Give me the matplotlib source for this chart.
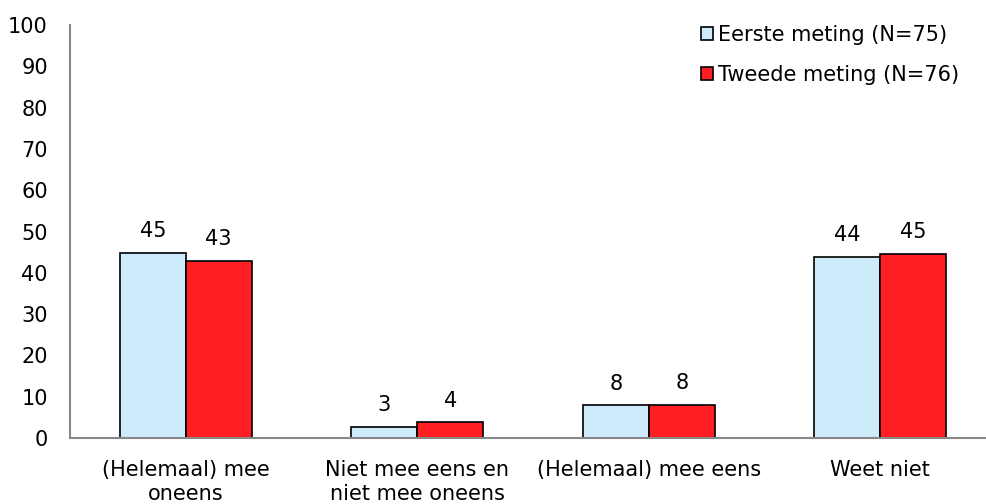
import matplotlib
matplotlib.use("Agg")
import matplotlib.pyplot as plt
import numpy as np

categories = ["(Helemaal) mee\noneens", "Niet mee eens en\nniet mee oneens", "(Helemaal) mee eens", "Weet niet"]
series_names = ["Eerste meting (N=75)", "Tweede meting (N=76)"]
eerste = [44.8, 2.6, 7.9, 43.8]
tweede = [42.8, 3.8, 8.0, 44.6]
eerste_labels = ["45", "3", "8", "44"]
tweede_labels = ["43", "4", "8", "45"]
yticks = [0, 10, 20, 30, 40, 50, 60, 70, 80, 90, 100]

plt.rcParams['font.family'] = ['DejaVu Sans']
FS = 15
W, H = 986, 504
fig = plt.figure(figsize=(W/100, H/100), dpi=100)
ax = fig.add_axes([70/W, (H-438)/H, (996-70)/W, (438-25)/H])
ax.set_xlim(-0.5, 3.5)
ax.set_ylim(0, 100)

x = np.arange(len(categories))
bw = 0.285
blue = "#CDEBFB"
red = "#FF1F23"
b1 = ax.bar(x - bw/2, eerste, bw, color=blue, edgecolor="black", linewidth=1.2, label=series_names[0])
b2 = ax.bar(x + bw/2, tweede, bw, color=red, edgecolor="black", linewidth=1.2, label=series_names[1])

for rect, lab in zip(b1, eerste_labels):
    ax.annotate(lab, (rect.get_x()+rect.get_width()/2, rect.get_height()), xytext=(0, 8.5),
                textcoords="offset points", ha="center", va="bottom", fontsize=FS)
for rect, lab in zip(b2, tweede_labels):
    ax.annotate(lab, (rect.get_x()+rect.get_width()/2, rect.get_height()), xytext=(0, 8.5),
                textcoords="offset points", ha="center", va="bottom", fontsize=FS)

ax.set_yticks(yticks)
ax.set_yticklabels([str(v) for v in yticks], fontsize=FS)
ax.set_xticks(x)
ax.set_xticklabels(categories, fontsize=FS, linespacing=1.3)
ax.tick_params(axis='both', length=0)
ax.tick_params(axis='y', pad=16)
ax.tick_params(axis='x', pad=15.5)
for s in ["top", "right"]:
    ax.spines[s].set_visible(False)
for s in ["left", "bottom"]:
    ax.spines[s].set_color("#888888")
    ax.spines[s].set_linewidth(1.5)

leg = ax.legend(loc="upper left", bbox_to_anchor=((682-70)/(996-70), 1.045), frameon=False,
                fontsize=FS, handlelength=0.6, handleheight=0.6, handletextpad=0.25,
                labelspacing=0.95)
for h in leg.legend_handles:
    h.set_linewidth(1.2)

fig.savefig("out.png", dpi=100)
